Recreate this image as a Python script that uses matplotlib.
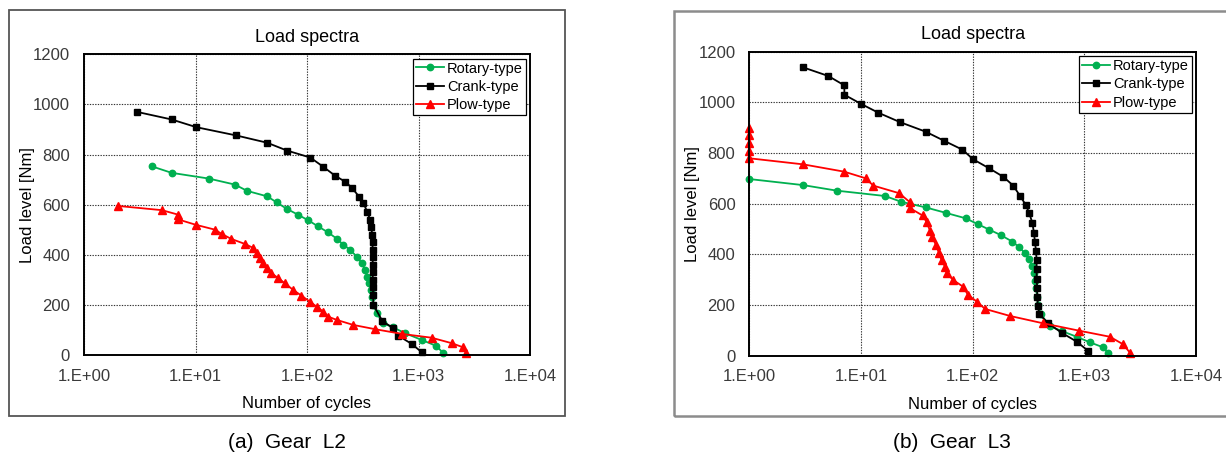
import numpy as np
import matplotlib
matplotlib.use("Agg")
import matplotlib.pyplot as plt
from matplotlib.patches import Rectangle
from matplotlib.ticker import FixedLocator, FuncFormatter

plt.rcParams['font.family'] = ['Liberation Sans', 'DejaVu Sans']

# ---- data ----
series_names = ["Rotary-type", "Crank-type", "Plow-type"]

# (a) Gear L2
rotary_l2_n = [4.05, 6.1, 13.2, 22.6, 29, 44, 53.5, 66, 83, 103, 126, 155, 185, 212, 243,
               279, 310, 331, 348, 363, 373, 380, 394, 422, 480, 594, 757, 1070, 1450, 1670]
rotary_l2_load = [753, 727, 704, 680, 655, 633, 609, 583, 560, 537, 513, 489, 464, 440, 420,
                  393, 367, 340, 313, 287, 260, 233, 200, 167, 127, 110, 87, 60, 36, 7]

crank_l2_n = [3, 6.1, 10.2, 23.3, 44, 66, 107, 139, 178, 219, 252, 293, 320, 348, 368, 378,
              384, 387, 388, 388, 389, 389, 389, 390, 392, 394, 475, 594, 660, 870, 1070]
crank_l2_load = [970, 940, 909, 876, 847, 816, 788, 752, 716, 692, 668, 632, 607, 570, 540, 510,
                 480, 450, 420, 390, 360, 330, 300, 270, 240, 200, 135, 107, 77, 44, 11]

plow_l2_n = [2.0, 5.0, 7.0, 7.0, 10, 15, 17.2, 21, 27.8, 33, 35.4, 38, 40.5, 43.5, 48, 55, 63,
             75, 89, 106, 122, 140, 155, 185, 260, 408, 715, 1310, 1990, 2500, 2680]
plow_l2_load = [595, 578, 560, 541, 520, 500, 483, 463, 443, 427, 407, 387, 367, 347, 327, 307,
                287, 260, 237, 213, 193, 173, 153, 140, 120, 103, 84, 69, 47, 31, 7]

# (b) Gear L3
rotary_l3_n = [1.0, 3.04, 6.1, 16.4, 23, 38, 58, 86.5, 111, 141, 178, 226, 261, 294, 321, 342,
               354, 363, 369, 379, 387, 406, 491, 626, 853, 1122, 1480, 1637]
rotary_l3_load = [697, 673, 651, 630, 607, 585, 563, 542, 519, 497, 476, 450, 428, 404, 380, 354,
                  325, 296, 265, 232, 199, 164, 116, 97, 74, 52, 32, 9]

crank_l3_n = [3.04, 5.1, 7.1, 7.1, 10.1, 14.3, 22.3, 38, 55, 81, 101, 141, 188, 231, 265, 300,
              321, 342, 354, 361, 369, 374, 374, 374, 379, 379, 383, 395, 475, 626, 853, 1084]
crank_l3_load = [1138, 1104, 1067, 1030, 993, 959, 922, 884, 849, 813, 775, 739, 706, 671, 631, 594,
                 562, 525, 485, 450, 414, 377, 341, 303, 265, 232, 196, 164, 127, 90, 55, 18]

plow_l3_n = [1, 1, 1, 1, 1, 3.04, 7.1, 11, 12.9, 22, 27.5, 27.5, 35.6, 38.7, 41.5, 43.5, 47, 50,
             52.7, 56.5, 58.5, 67, 82, 91, 109, 129, 217, 429, 900, 1695, 2230, 2560]
plow_l3_load = [897, 871, 838, 809, 779, 755, 726, 700, 671, 641, 605, 582, 553, 527, 493, 467, 436,
                404, 377, 351, 325, 298, 272, 239, 213, 184, 156, 127, 98, 74, 44, 11]

x_ticks = [1, 10, 100, 1000, 10000]
y_ticks = [0, 200, 400, 600, 800, 1000, 1200]
captions = ["(a)  Gear  L2", "(b)  Gear  L3"]

colors = ["#00B050", "#000000", "#FF0000"]
markers = ["o", "s", "^"]

W, H = 1226, 458
fig = plt.figure(figsize=(W / 100, H / 100), dpi=100)


def px_rect(x0, y0, x1, y1):
    # pixel box (top-left origin) -> figure fraction [l, b, w, h]
    return [x0 / W, 1 - y1 / H, (x1 - x0) / W, (y1 - y0) / H]


# outer frames
fig.patches.append(Rectangle((8.5 / W, 1 - 415.5 / H), (565 - 8.5) / W, (415.5 - 10) / H,
                             transform=fig.transFigure, fill=False, ec="#555555", lw=1.3))
fig.patches.append(Rectangle((674 / W, 1 - 415.5 / H), (1232 - 674) / W, (415.5 - 11) / H,
                             transform=fig.transFigure, fill=False, ec="#8c8c8c", lw=1.8))

panels = [
    (px_rect(84, 54.3, 530, 355), [(rotary_l2_n, rotary_l2_load), (crank_l2_n, crank_l2_load),
                                   (plow_l2_n, plow_l2_load)], 287),
    (px_rect(749.3, 51.7, 1196, 355.5), [(rotary_l3_n, rotary_l3_load), (crank_l3_n, crank_l3_load),
                                         (plow_l3_n, plow_l3_load)], 952),
]

for i, (rect, data, cap_x) in enumerate(panels):
    ax = fig.add_axes(rect)
    for (n, load), name, c, m in zip(data, series_names, colors, markers):
        ms = 5.2 if m == "^" else 4.6
        ax.plot(n, load, color=c, marker=m, markersize=ms, lw=1.3, label=name, clip_on=False)
    ax.set_xscale("log")
    ax.set_xlim(1, 10000)
    ax.set_ylim(0, 1200)
    ax.xaxis.set_major_locator(FixedLocator(x_ticks))
    ax.xaxis.set_minor_locator(FixedLocator([]))
    ax.xaxis.set_major_formatter(FuncFormatter(lambda v, p: "1.E+%02d" % int(round(np.log10(v)))))
    ax.yaxis.set_major_locator(FixedLocator(y_ticks))
    ax.grid(True, color="#333333", lw=0.8, linestyle=(0, (1.2, 1.2)))
    ax.set_axisbelow(True)
    ax.tick_params(axis="both", length=0, labelsize=12, labelcolor="#3a3a3a")
    ax.tick_params(axis="x", pad=10)
    ax.tick_params(axis="y", pad=10)
    for s in ax.spines.values():
        s.set_linewidth(1.4)
        s.set_color("black")
    ax.set_xlabel("Number of cycles", fontsize=12)
    ax.xaxis.set_label_coords(0.5, -0.135)
    ax.set_ylabel("Load level [Nm]", fontsize=12)
    ax.yaxis.set_label_coords(-0.11, 0.5)
    ax.text(0.5, 1.055, "Load spectra", transform=ax.transAxes, ha="center", va="center", fontsize=13)
    leg = ax.legend(loc="upper right", fontsize=10.5, frameon=True, fancybox=False,
                    edgecolor="black", framealpha=1, borderpad=0.2, labelspacing=0.3,
                    handlelength=1.9, handletextpad=0.2, borderaxespad=0.3)
    leg.get_frame().set_linewidth(0.9)
    fig.text(cap_x / W, 1 - 443 / H, captions[i], ha="center", va="center", fontsize=15)

fig.savefig("out.png", dpi=100)
